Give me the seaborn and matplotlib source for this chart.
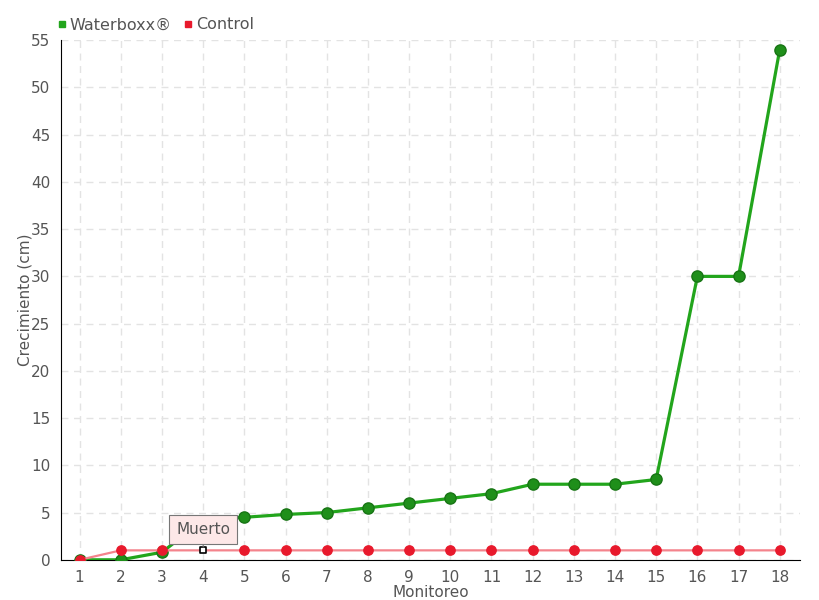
import numpy as np
import pandas as pd
import matplotlib
matplotlib.use('Agg')
import matplotlib.pyplot as plt
import seaborn as sns
from matplotlib.lines import Line2D

sns.set_style('white')
plt.rcParams['font.family'] = ['DejaVu Sans']

# data
monitoreo = list(range(1, 19))
waterboxx = [0, 0, 0.8, 4.2, 4.5, 4.8, 5.0, 5.5, 6.0, 6.5, 7.0, 8.0, 8.0, 8.0, 8.5, 30, 30, 54]
control = [0] + [1] * 17
muerto_idx = 3  # monitoreo 4

df = pd.DataFrame({'Monitoreo': monitoreo, 'Waterboxx': waterboxx, 'Control': control})

txt = '#555555'
fig, ax = plt.subplots(figsize=(8.2, 6), dpi=100)
fig.subplots_adjust(left=0.074, right=0.976, top=0.933, bottom=0.067)

# green series
sns.lineplot(data=df, x='Monitoreo', y='Waterboxx', ax=ax, color='#22a51c', lw=2.3, zorder=3)
mask = np.arange(len(df)) != muerto_idx
ax.scatter(df['Monitoreo'][mask], df['Waterboxx'][mask], s=65, color='#1f8f1a',
           edgecolor='#187515', linewidth=1, zorder=4)

# red series
sns.lineplot(data=df, x='Monitoreo', y='Control', ax=ax, color='#f4838c', lw=1.6, zorder=5)
ax.scatter(df['Monitoreo'][mask], df['Control'][mask], s=45, color='#e8192c', zorder=6)
ax.scatter([monitoreo[muerto_idx]], [control[muerto_idx]], s=22, marker='s', color='white',
           edgecolor='black', linewidth=1.2, zorder=7)

ax.annotate('Muerto', xy=(monitoreo[muerto_idx], control[muerto_idx] + 0.35),
            xytext=(monitoreo[muerto_idx], 3.2), ha='center', va='center',
            fontsize=11, color=txt, zorder=8,
            bbox=dict(boxstyle='square,pad=0.45', fc='#fde8e8', ec='#777777', lw=0.8),
            arrowprops=dict(arrowstyle='-', color='#777777', lw=0.8))

ax.set_xlim(0.54, 18.5)
ax.set_ylim(0, 55)
ax.set_xticks(monitoreo)
ax.set_yticks(range(0, 56, 5))
ax.grid(True, color='#e3e3e3', linestyle=(0, (5, 4)), lw=1)
ax.set_axisbelow(True)
for s in ['top', 'right']:
    ax.spines[s].set_visible(False)
ax.spines['left'].set_color('black')
ax.spines['bottom'].set_color('black')
ax.tick_params(axis='both', colors='black', labelcolor=txt, labelsize=11, length=4, direction='out')
ax.set_xlabel('Monitoreo', color=txt, fontsize=11, labelpad=0)
ax.set_ylabel('Crecimiento (cm)', color=txt, fontsize=11, labelpad=-1)

handles = [Line2D([], [], marker='s', ls='', color='#22a51c', markersize=5),
           Line2D([], [], marker='s', ls='', color='#e8192c', markersize=5)]
fig.legend(handles, ['Waterboxx®', 'Control'], loc='upper left', bbox_to_anchor=(0.05, 0.995),
           ncol=2, frameon=False, fontsize=11.5, labelcolor=txt, handletextpad=0.1,
           columnspacing=0.6, handlelength=0.8)

fig.savefig('out.png', dpi=100)
